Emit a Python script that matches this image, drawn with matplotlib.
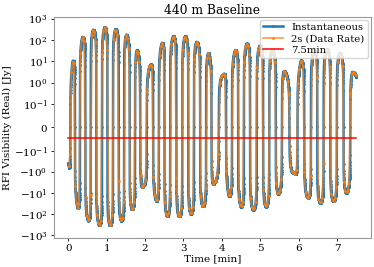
import numpy as np
import matplotlib
matplotlib.use('Agg')
import matplotlib.pyplot as plt

plt.rcParams['font.family'] = 'serif'
plt.rcParams['font.serif'] = ['DejaVu Serif']
plt.rcParams['mathtext.fontset'] = 'dejavuserif'

# fringe extrema: time [min], visibility [Jy]
ext_t = [0.00, 0.11, 0.24, 0.37, 0.52, 0.65, 0.81, 0.95, 1.09, 1.24, 1.39, 1.52,
         1.68, 1.80, 1.95, 2.14, 2.28, 2.44, 2.57, 2.74, 2.89, 3.05, 3.20, 3.35,
         3.52, 3.66, 3.80, 4.04, 4.18, 4.35, 4.50, 4.65, 4.82, 5.00, 5.15, 5.32,
         5.49, 5.64, 5.88, 6.06, 6.23, 6.41, 6.56, 6.74, 6.91, 7.08, 7.26, 7.43]
ext_v = [-0.4, 9.6, -48, 143, -195, 316, -310, 420, -330, 330, -195, 185,
         -53, 34, -4.3, 6.7, -21, 75, -123, 155, -123, 155, -93, 84,
         -40, 24, -3.1, 2.3, -13, 34, -43, 70, -60, 55, -43, 38,
         -9.7, 3.3, -1.0, 11, -16, 40, -28, 38, -23, 26, -9, 3.0]
t_end = 7.5
v_end = -1.6
avg_75min = -0.045

# instantaneous samples (0.1 s), half a fringe between each pair of extrema
dt = 0.1 / 60
t_inst = np.arange(0, t_end + dt / 2, dt)
v_inst = np.zeros_like(t_inst)
et = np.array(ext_t + [t_end + 0.2])
ev = np.array(ext_v + [v_end])
for i in range(len(et) - 1):
    m = (t_inst >= et[i]) & (t_inst <= et[i + 1])
    s = (t_inst[m] - et[i]) / (et[i + 1] - et[i])
    a = np.exp(np.log(abs(ev[i])) * (1 - s) + np.log(abs(ev[i + 1])) * s)
    v_inst[m] = np.sign(ev[i]) * a * np.cos(np.pi * s)

# 2 s averages
n_bin = 20
nb = len(t_inst) // n_bin
t_2s = t_inst[:nb * n_bin].reshape(nb, n_bin).mean(axis=1)
v_2s = v_inst[:nb * n_bin].reshape(nb, n_bin).mean(axis=1)

fig = plt.figure(figsize=(3.74, 2.67), dpi=100)
ax = fig.add_axes([0.144, 0.110, 0.847, 0.827])
ax.plot(t_inst, v_inst, '.-', color='tab:blue', lw=1.8, ms=1.8, label='Instantaneous')
ax.plot(t_2s, v_2s, '.-', color='tab:orange', lw=1.3, ms=2.5, alpha=0.7, label='2s (Data Rate)')
ax.plot([0, t_end], [avg_75min, avg_75min], color='red', lw=1.1, label='7.5min')
ax.set_yscale('symlog', linthresh=0.1)
ax.set_ylim(-1270, 1270)
ax.set_xticks(range(8))
ax.tick_params(labelsize=7.5, length=2.5, width=0.6, pad=2)
ax.set_xlabel('Time [min]', fontsize=7.5, labelpad=1)
ax.set_ylabel('RFI Visibility (Real) [Jy]', fontsize=7.5, labelpad=1)
ax.set_title('440 m Baseline', fontsize=8.8, pad=2)
ax.legend(loc='upper right', fontsize=7.2, borderpad=0.3, handlelength=2.0,
          labelspacing=0.25, borderaxespad=0.3)
for sp in ax.spines.values():
    sp.set_color('#999999')
fig.savefig('out.png', dpi=100)
